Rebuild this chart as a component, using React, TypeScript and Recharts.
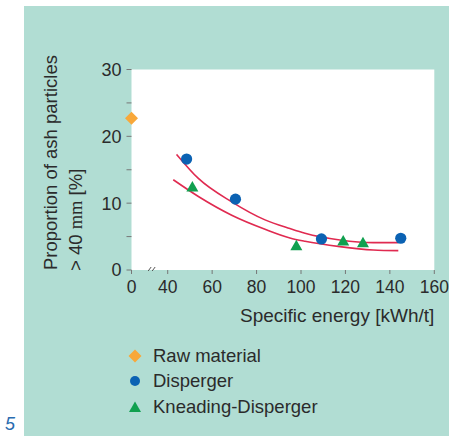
import { ComposedChart, Line, Scatter, XAxis, YAxis, CartesianGrid, ReferenceDot } from "recharts";

// energy axis is broken between 0 and 40; "0" sits at this axis value
const BREAK_X = 23.7;

const rawMaterial = [{ x: 0, y: 22.7 }];
const disperger = [
  { x: 48.5, y: 16.6 },
  { x: 70.5, y: 10.6 },
  { x: 109.2, y: 4.65 },
  { x: 144.9, y: 4.75 },
];
const kneadingDisperger = [
  { x: 51.1, y: 12.5 },
  { x: 97.9, y: 3.7 },
  { x: 119, y: 4.4 },
  { x: 127.9, y: 4.15 },
];
// fitted trend lines
const dispergerFit = [
  { x: 44, y: 17.3 },
  { x: 53.8, y: 13.7 },
  { x: 68.8, y: 10.2 },
  { x: 83.8, y: 7.5 },
  { x: 95, y: 6.2 },
  { x: 101.8, y: 5.5 },
  { x: 117.5, y: 4.5 },
  { x: 132.5, y: 4.1 },
  { x: 143.8, y: 4.1 },
];
const kneadingFit = [
  { x: 42.5, y: 13.5 },
  { x: 53.8, y: 11.0 },
  { x: 68.8, y: 8.2 },
  { x: 83.8, y: 6.1 },
  { x: 95, y: 4.8 },
  { x: 101.8, y: 4.3 },
  { x: 117.5, y: 3.5 },
  { x: 132.5, y: 3.0 },
  { x: 143.8, y: 2.9 },
];
const xTicks = [0, 40, 60, 80, 100, 120, 140, 160];
const yTicks = [0, 5, 10, 15, 20, 25, 30];

const TEAL = "#b1ddd3";
const RED = "#e02a50";
const ORANGE = "#f8a83a";
const BLUE = "#0b62b3";
const GREEN = "#10a04f";
const TEXT = "#2b2b2b";
const FONT = '"Liberation Sans", Arial, sans-serif';

const toAxis = (v: number) => (v < BREAK_X ? BREAK_X : v);
const onAxis = (pts: { x: number; y: number }[]) => pts.map((p) => ({ ...p, x: toAxis(p.x) }));

const DiamondMark = ({ cx, cy }: any) => (
  <polygon points={`${cx},${cy - 6.5} ${cx + 6.5},${cy} ${cx},${cy + 6.5} ${cx - 6.5},${cy}`} fill={ORANGE} />
);
const CircleMark = ({ cx, cy }: any) => <circle cx={cx} cy={cy} r={5.6} fill={BLUE} />;
const TriangleMark = ({ cx, cy }: any) => (
  <polygon points={`${cx},${cy - 5.5} ${cx + 6},${cy + 5} ${cx - 6},${cy + 5}`} fill={GREEN} />
);
const BreakMark = ({ cx, cy }: any) => (
  <g stroke="#555" strokeWidth={1}>
    <line x1={cx - 4} y1={cy + 1} x2={cx - 1} y2={cy - 3} />
    <line x1={cx} y1={cy + 1} x2={cx + 3} y2={cy - 3} />
  </g>
);

const legendItems = [
  { name: "Raw material", icon: <DiamondMark cx={8} cy={8} /> },
  { name: "Disperger", icon: <circle cx={8} cy={8} r={5} fill={BLUE} /> },
  { name: "Kneading-Disperger", icon: <TriangleMark cx={8} cy={8} /> },
];

export default function App() {
  return (
    <div style={{ position: "absolute", left: 0, top: 0, width: 449, height: 436, background: "#fff", overflow: "hidden", fontFamily: FONT }}>
      <div style={{ position: "absolute", left: 24, top: 6, width: 425, height: 430, background: TEAL }} />
      <div style={{ position: "absolute", left: 5, top: 414, fontSize: 18, lineHeight: "20px", fontStyle: "italic", color: "#2a6cb0" }}>5</div>
      <div style={{ position: "absolute", left: 0, top: 0 }}>
        <ComposedChart width={449} height={436} margin={{ top: 69.5, right: 14.7, left: 0, bottom: 136 }}>
          <CartesianGrid horizontal={false} vertical={false} fill="#fff" stroke="none" />
          <XAxis
            type="number"
            dataKey="x"
            domain={[BREAK_X, 160]}
            ticks={xTicks.map(toAxis)}
            tickFormatter={(v: number) => (v <= BREAK_X ? "0" : String(v))}
            height={30}
            axisLine={false}
            tickSize={4}
            tickMargin={7}
            tickLine={{ stroke: "#777" }}
            tick={{ fill: TEXT, fontSize: 17.5, fontFamily: FONT }}
            label={{
              content: ({ viewBox }: any) => (
                <text x={viewBox.x + viewBox.width} y={viewBox.y + 52} textAnchor="end" fill={TEXT} fontSize={19} fontFamily={FONT}>
                  Specific energy [kWh/t]
                </text>
              ),
            }}
          />
          <YAxis
            type="number"
            dataKey="y"
            domain={[0, 30]}
            ticks={yTicks}
            tickFormatter={(v: number) => (v % 10 === 0 ? String(v) : "")}
            width={131.5}
            axisLine={false}
            tickSize={5}
            tickMargin={5}
            tickLine={{ stroke: "#777" }}
            tick={{ fill: TEXT, fontSize: 18, fontFamily: FONT }}
            label={{
              content: () => (
                <g fill={TEXT} fontSize={18.5} fontFamily={FONT}>
                  <text transform="translate(57,270) rotate(-90)">Proportion of ash particles</text>
                  <text transform="translate(82,271) rotate(-90)">
                    {"> 40 "}
                    <tspan fontFamily='"Liberation Serif", serif'>mm</tspan>
                    {" [%]"}
                  </text>
                </g>
              ),
            }}
          />
          <ReferenceDot x={33} y={0} ifOverflow="visible" shape={BreakMark} />
          <Line data={onAxis(dispergerFit)} dataKey="y" type="monotone" stroke={RED} strokeWidth={1.6} dot={false} activeDot={false} isAnimationActive={false} />
          <Line data={onAxis(kneadingFit)} dataKey="y" type="monotone" stroke={RED} strokeWidth={1.6} dot={false} activeDot={false} isAnimationActive={false} />
          <Scatter name="Raw material" data={onAxis(rawMaterial)} shape={DiamondMark} isAnimationActive={false} />
          <Scatter name="Disperger" data={onAxis(disperger)} shape={CircleMark} isAnimationActive={false} />
          <Scatter name="Kneading-Disperger" data={onAxis(kneadingDisperger)} shape={TriangleMark} isAnimationActive={false} />
        </ComposedChart>
      </div>
      <div style={{ position: "absolute", left: 127, top: 343 }}>
        {legendItems.map((it) => (
          <div key={it.name} style={{ display: "flex", alignItems: "center", height: 25.5, color: TEXT, fontSize: 18.5 }}>
            <svg width={16} height={16} style={{ marginRight: 10 }}>
              {it.icon}
            </svg>
            <span>{it.name}</span>
          </div>
        ))}
      </div>
    </div>
  );
}
